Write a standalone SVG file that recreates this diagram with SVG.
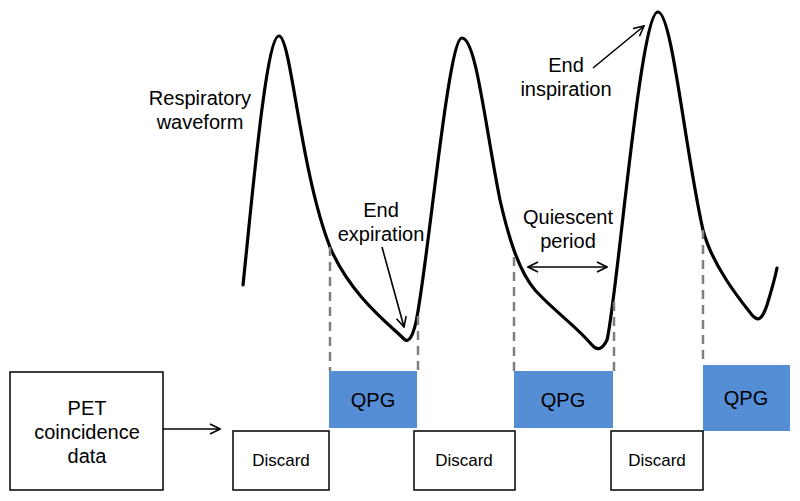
<svg xmlns="http://www.w3.org/2000/svg" width="800" height="501" viewBox="0 0 800 501">
<defs>
<style>
text{font-family:"Liberation Sans",Arial,sans-serif;fill:#000;text-anchor:middle}
.lbl{font-size:20px}
.big{font-size:20px}
.sm{font-size:17px}
.box{fill:#fff;stroke:#000;stroke-width:1.5}
.qpg{fill:#558ED5;stroke:none}
.dash{stroke:#7f7f7f;stroke-width:2.5;stroke-dasharray:9 6;fill:none}
.arr{stroke:#000;stroke-width:1.6;fill:none}
.wave{stroke:#000;stroke-width:3.2;fill:none;stroke-linejoin:round;stroke-linecap:round}
</style>
<marker id="ah" viewBox="0 0 12 12" refX="11" refY="6" markerWidth="12" markerHeight="12" markerUnits="userSpaceOnUse" orient="auto-start-reverse">
<path d="M1,1 L11,6 L1,11" fill="none" stroke="#000" stroke-width="1.6"/>
</marker>
</defs>
<rect width="800" height="501" fill="#fff"/>
<g id="waveform">
<path class="wave" d="M243,285 C252,200 266,36 279,36 C291,36 300,170 330,247 C350,295 390,325 404,339 C409,344 413,335 416,322 C428,265 448,38 462,38 C476,38 485,125 500,200 C508,235 518,270 535,290 C555,312 575,325 592,345 C597,351 602,350 607,340 C617,300 640,12 658,12 C672,12 685,150 703,230 C712,265 740,300 752,315 C758,322 762,320 767,305 C771,292 775,278 777,268"/>
<text class="lbl" x="200" y="105">Respiratory</text>
<text class="lbl" x="200" y="129">waveform</text>
</g>
<g id="gates">
<line class="dash" x1="330" y1="247" x2="330" y2="371"/>
<line class="dash" x1="418" y1="316" x2="418" y2="371"/>
<line class="dash" x1="514" y1="257" x2="514" y2="371"/>
<line class="dash" x1="614" y1="302" x2="614" y2="371"/>
<line class="dash" x1="703" y1="230" x2="703" y2="365"/>
</g>
<g id="connectors">
<line class="arr" x1="382" y1="247" x2="404" y2="327" marker-end="url(#ah)"/>
<line class="arr" x1="528" y1="267" x2="607" y2="267" marker-start="url(#ah)" marker-end="url(#ah)"/>
<line class="arr" x1="593" y1="68" x2="644" y2="26" marker-end="url(#ah)"/>
<line class="arr" x1="163" y1="429" x2="220" y2="429" marker-end="url(#ah)"/>
</g>
<g id="label-end-expiration">
<text class="lbl" x="381" y="217">End</text>
<text class="lbl" x="381" y="241">expiration</text>
</g>
<g id="label-quiescent">
<text class="lbl" x="568" y="224">Quiescent</text>
<text class="lbl" x="568" y="248">period</text>
</g>
<g id="label-end-inspiration">
<text class="lbl" x="566" y="72">End</text>
<text class="lbl" x="566" y="96">inspiration</text>
</g>
<g id="pet">
<rect class="box" x="10" y="372" width="153" height="118"/>
<text class="big" x="87" y="415">PET</text>
<text class="big" x="87" y="439">coincidence</text>
<text class="big" x="87" y="463">data</text>
</g>
<g id="qpg1"><rect class="qpg" x="329" y="371" width="88" height="57"/><text class="big" x="373" y="407">QPG</text></g>
<g id="qpg2"><rect class="qpg" x="514" y="371" width="99" height="57"/><text class="big" x="563" y="407">QPG</text></g>
<g id="qpg3"><rect class="qpg" x="703" y="365" width="87" height="66"/><text class="big" x="746" y="405">QPG</text></g>
<g id="discard1"><rect class="box" x="233" y="431" width="96" height="59"/><text class="sm" x="281" y="466">Discard</text></g>
<g id="discard2"><rect class="box" x="414" y="431" width="101" height="59"/><text class="sm" x="464" y="466">Discard</text></g>
<g id="discard3"><rect class="box" x="611" y="431" width="92" height="59"/><text class="sm" x="657" y="466">Discard</text></g>
</svg>
